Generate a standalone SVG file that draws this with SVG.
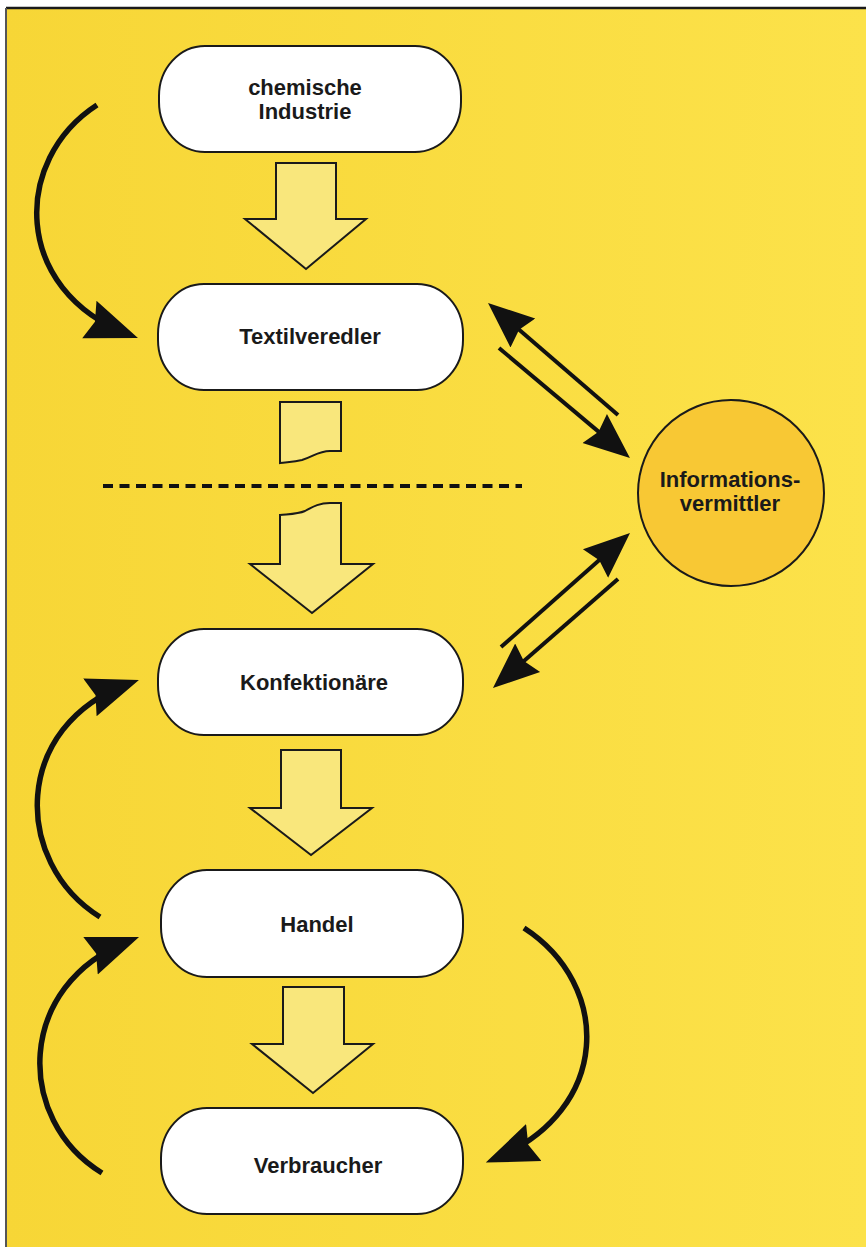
<svg xmlns="http://www.w3.org/2000/svg" width="866" height="1247" viewBox="0 0 866 1247">
  <defs>
    <linearGradient id="bg" x1="0" y1="0" x2="1" y2="0">
      <stop offset="0" stop-color="#f7d636"/>
      <stop offset="1" stop-color="#fce24a"/>
    </linearGradient>
    <!-- arrowhead for the straight information arrows -->
    <marker id="head" viewBox="0 -21 50 42" refX="36" refY="0" markerWidth="50" markerHeight="42" markerUnits="userSpaceOnUse" orient="auto">
      <path d="M0,-19 L46,0 L0,19 L5,0 Z" fill="#111"/>
    </marker>
    <!-- arrowhead for the curved feedback arrows -->
    <marker id="headc" viewBox="0 -21 56 42" refX="42" refY="0" markerWidth="56" markerHeight="42" markerUnits="userSpaceOnUse" orient="auto">
      <path d="M0,-20 L52,0 L0,20 L6,0 Z" fill="#111"/>
    </marker>
  </defs>
  <style>
    .box { fill: #ffffff; stroke: #1a1a1a; stroke-width: 2; }
    .flow { fill: #f9e77c; stroke: #1a1a1a; stroke-width: 2; stroke-linejoin: miter; }
    .lbl { font-family: "Liberation Sans", Arial, sans-serif; font-weight: bold; font-size: 22px; fill: #1a1a1a; text-anchor: middle; }
    .info { fill: none; stroke: #111; stroke-width: 4; marker-end: url(#head); }
    .loop { fill: none; stroke: #111; stroke-width: 5.5; marker-end: url(#headc); }
  </style>

  <!-- page and frame -->
  <rect x="0" y="0" width="866" height="1247" fill="#ffffff"/>
  <rect x="6" y="8" width="860" height="1239" fill="url(#bg)"/>
  <line x1="6" y1="8" x2="866" y2="8" stroke="#1a1a1a" stroke-width="2.5"/>
  <line x1="6" y1="8" x2="6" y2="1247" stroke="#555" stroke-width="2"/>

  <!-- dashed separator -->
  <line x1="103" y1="486" x2="522" y2="486" stroke="#111" stroke-width="4" stroke-dasharray="10 6.5"/>

  <!-- flow arrows between stages -->
  <g id="flow-arrows">
    <polygon class="flow" points="276,163 336,163 336,219 366,219 306,269 245,219 276,219"/>
    <path class="flow" d="M280,402 L341,402 L341,451 L330,451 C318,451 313,457 302,460 C293,462 286,462 280,463 Z"/>
    <path class="flow" d="M280,515 C290,514 298,514 305,511 C314,506 320,503 330,503 L341,503 L341,564 L373,564 L312,613 L250,564 L280,564 Z"/>
    <polygon class="flow" points="281,750 341,750 341,808 372,808 311,855 250,808 281,808"/>
    <polygon class="flow" points="283,987 344,987 344,1044 373,1044 313,1093 252,1044 283,1044"/>
  </g>

  <!-- stages -->
  <g id="chemische-industrie">
    <rect class="box" x="159" y="46" width="302" height="106" rx="46" ry="50"/>
    <text class="lbl" x="305" y="95">chemische</text>
    <text class="lbl" x="305" y="119">Industrie</text>
  </g>
  <g id="textilveredler">
    <rect class="box" x="158" y="284" width="305" height="106" rx="46" ry="50"/>
    <text class="lbl" x="310" y="344">Textilveredler</text>
  </g>
  <g id="konfektionaere">
    <rect class="box" x="158" y="629" width="305" height="106" rx="46" ry="50"/>
    <text class="lbl" x="314" y="690">Konfektionäre</text>
  </g>
  <g id="handel">
    <rect class="box" x="161" y="870" width="302" height="107" rx="46" ry="50"/>
    <text class="lbl" x="317" y="932">Handel</text>
  </g>
  <g id="verbraucher">
    <rect class="box" x="161" y="1108" width="302" height="106" rx="46" ry="50"/>
    <text class="lbl" x="318" y="1173">Verbraucher</text>
  </g>
  <g id="informationsvermittler">
    <circle cx="731" cy="493" r="93" fill="#f8c834" stroke="#1a1a1a" stroke-width="2"/>
    <text class="lbl" x="730" y="487">Informations-</text>
    <text class="lbl" x="730" y="511">vermittler</text>
  </g>

  <!-- connectors -->
  <g id="connectors">
    <path class="info" d="M618,415 L495.6,309.5"/>
    <path class="info" d="M499,348 L622.3,451.6"/>
    <path class="info" d="M501,647 L622.5,539.6"/>
    <path class="info" d="M618,579 L500.5,681.4"/>
    <path class="loop" d="M97,105 C12,160 12,290 128.6,334.5"/>
    <path class="loop" d="M100,917 C12,862 12,725 129.5,683.3"/>
    <path class="loop" d="M102,1173 C15,1120 15,985 129.7,940.6"/>
    <path class="loop" d="M524,928 C612,985 612,1110 495,1158.7"/>
  </g>
</svg>
